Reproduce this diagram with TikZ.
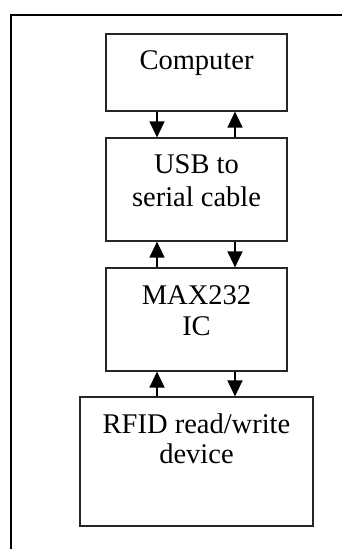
\documentclass[tikz,border=0pt]{standalone}
\usepackage{fontspec}
\setmainfont{Liberation Serif}
\usetikzlibrary{arrows.meta}
\begin{document}
\begin{tikzpicture}[x=1pt,y=-1pt,
  blk/.style={draw=black!85,line width=1.2pt,rectangle,inner sep=0pt,minimum width=181pt},
  lbl/.style={inner sep=0pt,anchor=base,font=\fontsize{28.5}{33}\selectfont},
  arr/.style={line width=1.3pt,-{Triangle[length=16pt,width=15pt]}},
  frame/.style={line width=2pt,black}]
\useasboundingbox (0,0) rectangle (342,549);
\draw[frame] (11,549) -- (11,15) -- (342,15);
\node[blk,minimum height=77pt] (comp) at (196.5,72.5) {};
\node[blk,minimum height=103pt] (usb) at (196.5,189.5) {};
\node[blk,minimum height=103pt] (max) at (196.5,319.5) {};
\node[blk,minimum width=233pt,minimum height=129pt] (rfid) at (196.5,461.5) {};
\node[lbl] (t1) at (196.5,69.5) {Computer};
\node[lbl] (t2) at (196.5,173) {USB to};
\node[lbl] (t3) at (196.5,206) {serial cable};
\node[lbl] (t4) at (196.5,304) {MAX232};
\node[lbl] (t5) at (196.5,335) {IC};
\node[lbl] (t6) at (196.5,433) {RFID read/write};
\node[lbl] (t7) at (196.5,463.5) {device};
\coordinate (xa) at (157,0);
\coordinate (xb) at (235,0);
\draw[arr] (comp.south -| xa) -- (usb.north -| xa);
\draw[arr] (usb.north -| xb) -- (comp.south -| xb);
\draw[arr] (max.north -| xa) -- (usb.south -| xa);
\draw[arr] (usb.south -| xb) -- (max.north -| xb);
\draw[arr] (rfid.north -| xa) -- (max.south -| xa);
\draw[arr] (max.south -| xb) -- (rfid.north -| xb);
\end{tikzpicture}
\end{document}
